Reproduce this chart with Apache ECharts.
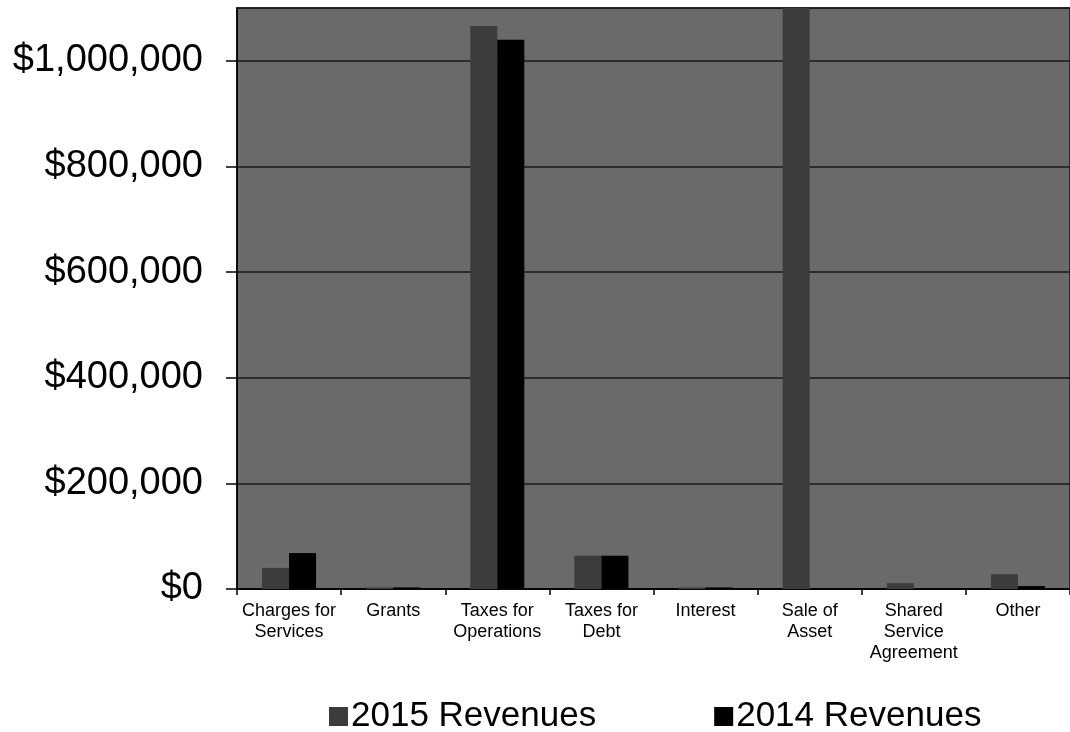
<!DOCTYPE html>
<html>
<head>
<meta charset="utf-8">
<title>Revenues 2015 vs 2014</title>
<script src="https://cdn.jsdelivr.net/npm/echarts@6/dist/echarts.min.js"></script>
<style>
  html, body { margin: 0; padding: 0; background: #ffffff; }
  #chart { width: 1070px; height: 732px; }
</style>
</head>
<body>
<div id="chart"></div>
<script>
// Revenue categories and yearly amounts (USD)
const categories = [
  'Charges for\nServices',
  'Grants',
  'Taxes for\nOperations',
  'Taxes for\nDebt',
  'Interest',
  'Sale of\nAsset',
  'Shared\nService\nAgreement',
  'Other'
];
const seriesNames = ['2015 Revenues', '2014 Revenues'];
const revenues2015 = [40000, 3000, 1066000, 63000, 3000, 1150000, 11000, 28000];
const revenues2014 = [68000, 3000, 1040000, 63000, 3000, 0, 0, 5500];

// Value axis range
const yMin = 0;
const yMax = 1100000;
const yStep = 200000;

const fontFamily = '"Liberation Sans", Arial, sans-serif';

const chart = echarts.init(document.getElementById('chart'), null, { renderer: 'canvas' });

function money(v) {
  return '$' + Math.round(v).toString().replace(/\B(?=(\d{3})+(?!\d))/g, ',');
}

chart.setOption({
  animation: false,
  backgroundColor: '#ffffff',
  textStyle: { fontFamily: fontFamily, color: '#000' },
  grid: {
    left: 237,
    right: -6,
    top: 8,
    bottom: 143,
    show: true,
    backgroundColor: '#6a6a6a',
    borderColor: '#111',
    borderWidth: 1.5
  },
  legend: {
    data: seriesNames,
    left: 324,
    top: 694,
    itemWidth: 19,
    itemHeight: 19,
    itemGap: 118,
    icon: 'rect',
    textStyle: { fontSize: 35, color: '#000', fontFamily: fontFamily, padding: [0, 0, 0, -2] }
  },
  xAxis: {
    type: 'category',
    data: categories,
    axisLine: { show: true, lineStyle: { color: '#000', width: 1.5 } },
    axisTick: { show: true, length: 6, lineStyle: { color: '#000', width: 1.5 } },
    axisLabel: {
      interval: 0,
      fontSize: 18,
      lineHeight: 21,
      color: '#000',
      margin: 12,
      fontFamily: fontFamily
    },
    splitLine: { show: false }
  },
  yAxis: {
    type: 'value',
    min: yMin,
    max: yMax,
    interval: yStep,
    axisLine: { show: true, lineStyle: { color: '#000', width: 1.5 } },
    axisTick: { show: true, length: 11, lineStyle: { color: '#000', width: 1.5 } },
    axisLabel: {
      fontSize: 38,
      color: '#000',
      margin: 34,
      showMaxLabel: false,
      fontFamily: fontFamily,
      formatter: money
    },
    splitLine: { show: true, lineStyle: { color: '#1a1a1a', width: 1.5 } }
  },
  series: [
    {
      name: seriesNames[0],
      type: 'bar',
      data: revenues2015,
      barWidth: 27,
      barGap: '0%',
      clip: true,
      itemStyle: { color: '#3c3c3c' }
    },
    {
      name: seriesNames[1],
      type: 'bar',
      data: revenues2014,
      barWidth: 27,
      barGap: '0%',
      clip: true,
      itemStyle: { color: '#000000' }
    }
  ]
});
</script>
</body>
</html>
